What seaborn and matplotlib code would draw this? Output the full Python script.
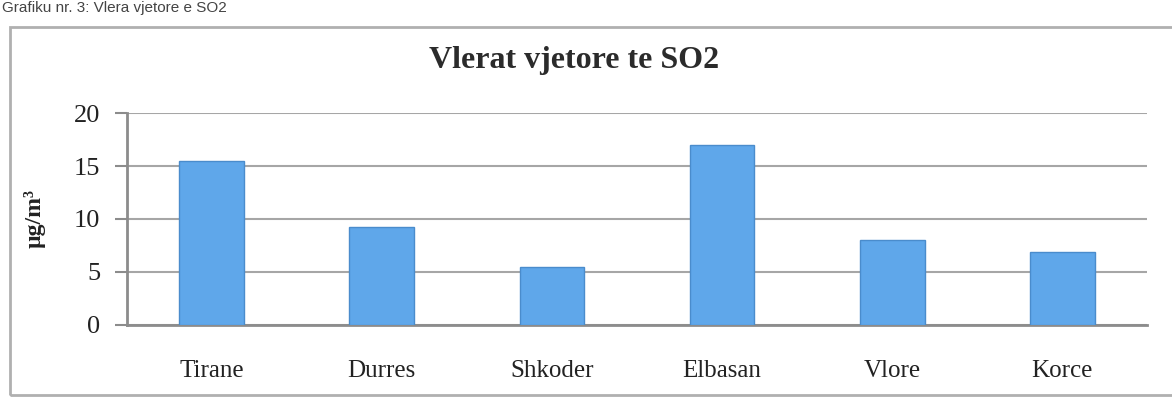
import matplotlib
matplotlib.use("Agg")
import matplotlib.pyplot as plt
import seaborn as sns
import pandas as pd
from matplotlib.patches import Rectangle

# data
cities = ["Tirane", "Durres", "Shkoder", "Elbasan", "Vlore", "Korce"]
so2_values = [15.5, 9.2, 5.5, 17.0, 8.0, 6.9]
y_ticks = [0, 5, 10, 15, 20]

sns.set_style("white")
plt.rcParams["font.family"] = ["Liberation Serif", "DejaVu Serif"]

df = pd.DataFrame({"city": cities, "value": so2_values})

fig = plt.figure(figsize=(11.72, 4.01), dpi=100)
ax = fig.add_axes([0.108, 0.19, 0.871, 0.528])

sns.barplot(data=df, x="city", y="value", color="#5fa7ea", width=0.38,
            saturation=1, edgecolor="#4a8ccc", linewidth=1, ax=ax, zorder=3)

ax.set_ylim(0, 20)
ax.set_yticks(y_ticks)
ax.yaxis.grid(True, color="#a6a6a6", linewidth=1.5, zorder=0)
ax.set_axisbelow(True)
for s in ["top", "right"]:
    ax.spines[s].set_visible(False)
for s in ["left", "bottom"]:
    ax.spines[s].set_color("#8c8c8c")
    ax.spines[s].set_linewidth(2)
ax.tick_params(axis="y", left=True, length=9, width=1.5, color="#8c8c8c",
               labelsize=19, labelcolor="#222222", pad=10)
ax.tick_params(axis="x", bottom=False, labelsize=18, labelcolor="#222222", pad=22)
ax.set_xlabel("")
ax.set_ylabel("µg/m³", fontsize=17, fontweight="bold", color="#222222", labelpad=20)

fig.text(0.49, 0.85, "Vlerat vjetore te SO2", ha="center", va="center",
         fontsize=23, fontweight="bold", color="#2b2b2b")

# caption above the chart box (cut off in the scan)
fig.text(0.002, 0.998, "Grafiku nr. 3: Vlera vjetore e SO2", ha="left", va="top",
         fontsize=11, color="#444444", family=["Liberation Sans", "DejaVu Sans"])

# outer chart frame
fig.add_artist(Rectangle((10 / 1172, 1 - 395 / 401), 1.2, (395 - 27) / 401,
                         transform=fig.transFigure, fill=False,
                         edgecolor="#b0b0b0", linewidth=2))

fig.savefig("out.png", dpi=100)
